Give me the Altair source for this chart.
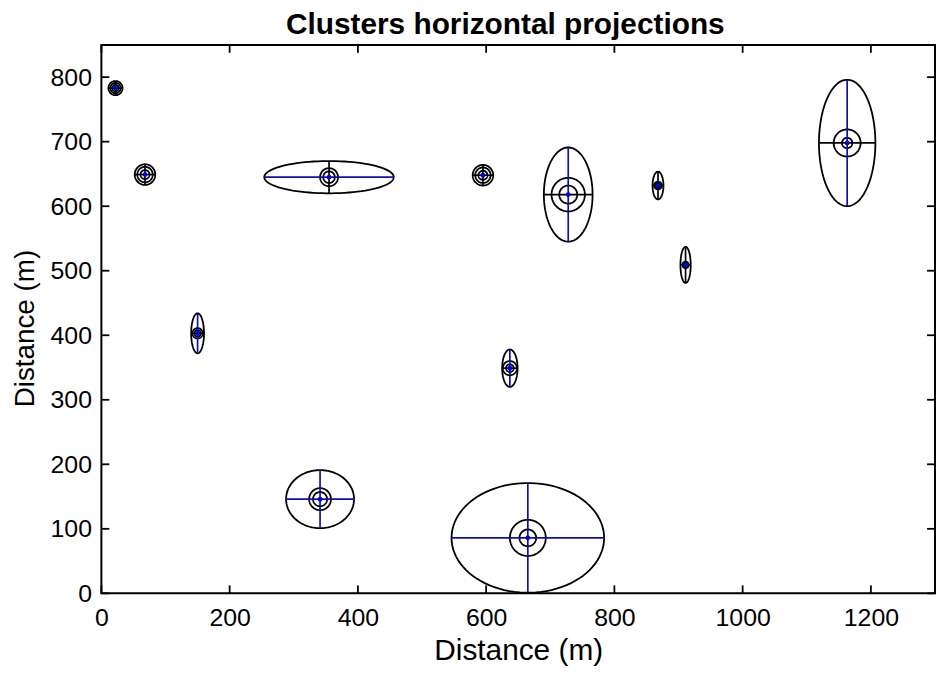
import numpy as np
import pandas as pd
import altair as alt

# ---- data ----
cx = [22, 68, 150, 355, 595, 728, 868, 911, 1163, 637, 341, 665]
cy = [783, 649, 403, 645, 648, 618, 632, 509, 698, 349, 146, 86]
semi_x = [11, 16, 10, 101, 16, 38, 8.5, 8, 44, 12, 53, 119]
semi_y = [11, 16, 31, 25, 16, 73, 21.5, 28, 98, 29, 45, 85]
ring_out = [8, 12, 8, 14, 12, 26, 6, 5, 21, 11, 17, 28]
ring_in = [5, 7, 5, 9, 7, 14, 4, 3, 8, 6, 11, 13]
h_color = ["#000000", "#000000", "#000000", "#1010a8", "#000000", "#000000",
           "#000000", "#000000", "#000000", "#000000", "#1010a8", "#1010a8"]
v_color = ["#000000", "#000000", "#1010a8", "#000000", "#000000", "#1010a8",
           "#000000", "#000000", "#1010a8", "#1010a8", "#1010a8", "#1010a8"]
x_ticks = [0, 200, 400, 600, 800, 1000, 1200]
y_ticks = [0, 100, 200, 300, 400, 500, 600, 700, 800]
title_text = ["Clusters horizontal projections"]

X_DOMAIN = [0, 1300]
Y_DOMAIN = [0, 850]
W, H = 839, 552
FONT = "Liberation Sans"

# outlines (ellipse + two rings per cluster)
rows = []
theta = np.linspace(0, 2 * np.pi, 91)
for i in range(len(cx)):
    shapes = [("e", semi_x[i], semi_y[i]), ("r1", ring_out[i], ring_out[i]),
              ("r2", ring_in[i], ring_in[i])]
    for name, a, b in shapes:
        for k, t in enumerate(theta):
            rows.append({"id": f"{i}_{name}", "k": k,
                         "x": cx[i] + a * np.cos(t), "y": cy[i] + b * np.sin(t)})
outline = pd.DataFrame(rows)

clusters = pd.DataFrame({
    "cx": cx, "cy": cy,
    "x1": [c - a for c, a in zip(cx, semi_x)],
    "x2": [c + a for c, a in zip(cx, semi_x)],
    "y1": [c - b for c, b in zip(cy, semi_y)],
    "y2": [c + b for c, b in zip(cy, semi_y)],
    "hc": h_color, "vc": v_color,
})

xs = alt.Scale(domain=X_DOMAIN, nice=False, zero=False)
ys = alt.Scale(domain=Y_DOMAIN, nice=False, zero=False)
xax = alt.Axis(
    title="Distance (m)", values=x_ticks, format="d", ticks=False, domain=False,
    grid=False, labelFont=FONT, labelFontSize=25, labelColor="black", labelPadding=12,
    labelFlush=False,
    titleFont=FONT, titleFontSize=30, titleFontWeight="normal", titleColor="black",
    titlePadding=6)
yax = alt.Axis(
    title="Distance (m)", values=y_ticks, format="d", ticks=False, domain=False,
    grid=False, labelFont=FONT, labelFontSize=25, labelColor="black", labelPadding=10,
    labelFlush=False,
    titleFont=FONT, titleFontSize=28, titleFontWeight="normal", titleColor="black",
    titleX=-62, titleY=285, titleBaseline="bottom", titleAlign="center")


def X(f):
    return alt.X(f, scale=xs, axis=xax)


def Y(f):
    return alt.Y(f, scale=ys, axis=yax)


lines = alt.Chart(outline).mark_line(color="black", strokeWidth=1.8).encode(
    x=X("x:Q"), y=Y("y:Q"), detail="id:N", order="k:Q",
)
hrule = alt.Chart(clusters).mark_rule(strokeWidth=1.7).encode(
    x=X("x1:Q"), x2="x2:Q", y=Y("cy:Q"),
    color=alt.Color("hc:N", scale=None),
)
vrule = alt.Chart(clusters).mark_rule(strokeWidth=1.7).encode(
    x=X("cx:Q"), y=Y("y1:Q"), y2="y2:Q",
    color=alt.Color("vc:N", scale=None),
)
dots = alt.Chart(clusters).mark_circle(size=24, color="#0000e0", opacity=1).encode(
    x=X("cx:Q"), y=Y("cy:Q"),
)

xt = pd.DataFrame({"v": x_ticks})
yt = pd.DataFrame({"v": y_ticks})
tick_w = 1.8
xtick_b = alt.Chart(xt).mark_rule(color="black", strokeWidth=tick_w).encode(
    x=X("v:Q"), y=alt.value(H), y2=alt.value(H - 8))
xtick_t = alt.Chart(xt).mark_rule(color="black", strokeWidth=tick_w).encode(
    x=X("v:Q"), y=alt.value(0), y2=alt.value(8))
ytick_l = alt.Chart(yt).mark_rule(color="black", strokeWidth=tick_w).encode(
    y=Y("v:Q"), x=alt.value(0), x2=alt.value(8))
ytick_r = alt.Chart(yt).mark_rule(color="black", strokeWidth=tick_w).encode(
    y=Y("v:Q"), x=alt.value(W), x2=alt.value(W - 8))

title = alt.Chart(pd.DataFrame({"t": title_text})).mark_text(
    font=FONT, fontSize=30, fontWeight="bold", color="black",
    align="center", baseline="alphabetic",
).encode(text="t:N", x=alt.value(W / 2 - 13), y=alt.value(-11))

chart = alt.layer(
    lines, hrule, vrule, dots, xtick_b, xtick_t, ytick_l, ytick_r, title
).properties(
    width=W, height=H,
    autosize=alt.AutoSizeParams(type="none"),
    padding={"left": 94, "top": 35, "right": 2, "bottom": 72},
    background="white",
).configure_view(
    stroke="black", strokeWidth=2
)

chart.save("out.html", embed_options={"renderer": "svg", "actions": False})
